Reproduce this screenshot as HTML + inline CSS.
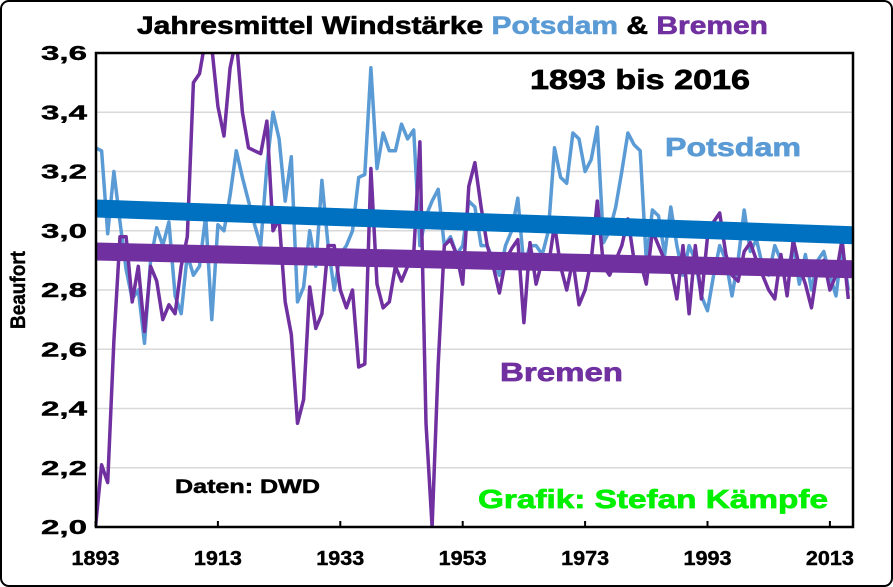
<!DOCTYPE html>
<html><head><meta charset="utf-8"><style>
html,body{margin:0;padding:0;background:#fff;}
svg{display:block;font-family:"Liberation Sans",Arial,sans-serif;}
</style></head><body>
<svg id="chart" width="893" height="587" viewBox="0 0 893 587">
<rect x="1" y="1" width="891" height="585" rx="8" fill="#fff" stroke="#000" stroke-width="2"/>
<text x="137" y="34" textLength="631" lengthAdjust="spacingAndGlyphs" font-size="25" font-weight="bold" stroke="#000" stroke-width="0.6">Jahresmittel Windstärke <tspan fill="#5B9BD5" stroke="#5B9BD5">Potsdam</tspan> &amp; <tspan fill="#7030A0" stroke="#7030A0">Bremen</tspan></text>
<g id="grid"></g>
<g id="ylabels"></g>
<g id="xlabels"></g>
<defs><clipPath id="pc"><rect x="96" y="53" width="757" height="474"/></clipPath></defs>
<g id="series" clip-path="url(#pc)"></g>
<rect x="96" y="53" width="757" height="474" fill="none" stroke="#000" stroke-width="2.5"/>
<text x="25" y="290" transform="rotate(-90 25 290)" text-anchor="middle" textLength="78" lengthAdjust="spacingAndGlyphs" font-size="21" font-weight="bold" stroke="#000" stroke-width="0.4">Beaufort</text>
<text x="530" y="89" textLength="220" lengthAdjust="spacingAndGlyphs" font-size="28" font-weight="bold" stroke="#000" stroke-width="0.7">1893 bis 2016</text>
<text x="665" y="156" textLength="136" lengthAdjust="spacingAndGlyphs" font-size="26" font-weight="bold" fill="#5B9BD5" stroke="#5B9BD5" stroke-width="0.7">Potsdam</text>
<text x="500" y="381" textLength="123" lengthAdjust="spacingAndGlyphs" font-size="26" font-weight="bold" fill="#7030A0" stroke="#7030A0" stroke-width="0.7">Bremen</text>
<text x="175" y="493" textLength="145" lengthAdjust="spacingAndGlyphs" font-size="19" font-weight="bold" stroke="#000" stroke-width="0.5">Daten: DWD</text>
<text x="478" y="508" textLength="350" lengthAdjust="spacingAndGlyphs" font-size="26" font-weight="bold" fill="#00F000" stroke="#00F000" stroke-width="0.7">Grafik: Stefan Kämpfe</text>
</svg>
<script>
const years = [];
for (let y = 1893; y <= 2016; y++) years.push(y);
const potsdam = [3.28,3.27,2.99,3.20,3.03,2.87,2.77,2.80,2.62,2.90,
3.01,2.95,3.03,2.78,2.72,2.92,2.85,2.88,3.05,2.70,
3.02,3.00,3.12,3.27,3.18,3.10,3.02,2.95,3.22,3.40,
3.31,3.10,3.25,2.76,2.81,3.00,2.88,3.17,2.95,2.80,
2.92,2.95,3.00,3.18,3.19,3.55,3.21,3.33,3.27,3.27,
3.36,3.31,3.34,2.95,3.05,3.10,3.14,2.95,2.98,2.92,
2.95,3.10,3.08,2.95,2.95,2.90,2.85,2.95,3.00,3.11,
2.88,2.95,2.95,2.92,3.00,3.28,3.18,3.16,3.33,3.31,
3.20,3.24,3.35,2.96,3.00,3.08,3.20,3.33,3.29,3.27,
2.90,3.07,3.05,2.92,3.08,2.95,2.85,2.95,2.90,2.78,
2.73,2.85,2.95,2.90,2.78,2.90,3.07,2.93,2.97,2.88,
2.85,2.95,2.90,2.85,2.95,2.82,2.92,2.80,2.90,2.93,
2.85,2.78,2.95,2.80];
const bremen = [2.00,2.21,2.15,2.63,2.98,2.98,2.76,2.88,2.66,2.88,
2.83,2.70,2.75,2.72,2.88,2.98,3.50,3.53,3.65,3.62,
3.42,3.32,3.55,3.65,3.40,3.28,3.27,3.26,3.37,3.00,
3.04,2.76,2.65,2.35,2.43,2.81,2.67,2.72,2.95,2.95,
2.80,2.74,2.80,2.54,2.55,3.21,2.82,2.74,2.76,2.88,
2.83,2.88,2.92,3.30,2.35,2.00,2.55,2.95,2.97,2.92,
2.82,3.15,3.23,3.08,2.95,2.88,2.79,2.90,2.94,2.97,
2.69,2.96,2.82,2.90,2.88,3.02,2.88,2.80,2.90,2.75,
2.80,2.90,3.10,2.88,2.85,2.90,2.95,3.04,2.90,2.90,
2.82,3.00,2.95,2.90,2.88,2.77,2.95,2.72,2.95,2.77,
2.98,3.03,3.06,2.92,2.85,2.83,2.93,2.96,2.90,2.85,
2.80,2.77,2.92,2.78,2.97,2.88,2.82,2.74,2.88,2.90,
2.80,2.85,2.97,2.77];
const potsdamTrend = [3.075, 2.985];
const bremenTrend = [2.93, 2.87];
const yTicks = [2.0,2.2,2.4,2.6,2.8,3.0,3.2,3.4,3.6];
const xTicks = [1893,1913,1933,1953,1973,1993,2013];

const NS = "http://www.w3.org/2000/svg";
function xs(yr){ return 95.5 + (yr - 1893) * 6.12; }
function ys(v){ return 527 - (v - 2.0) / 1.6 * 474; }
function mk(tag, attrs, parent){ const e = document.createElementNS(NS, tag); for (const k in attrs) e.setAttribute(k, attrs[k]); parent.appendChild(e); return e; }

const grid = document.getElementById('grid');
const yl = document.getElementById('ylabels');
yTicks.forEach(v => {
  const l = mk('line', {x1:96, x2:853, y1:ys(v), y2:ys(v), stroke:'#d9d9d9', 'stroke-width':1.5}, grid);
  
  
  const t = mk('text', {x:41, y:ys(v)+7, textLength:46, lengthAdjust:'spacingAndGlyphs', 'font-size':20, 'font-weight':'bold', stroke:'#000', 'stroke-width':0.4}, yl);
  t.textContent = v.toFixed(1).replace('.', ',');
  
  
});
const xl = document.getElementById('xlabels');
xTicks.forEach(yr => {
  const tk = mk('line', {x1:xs(yr), x2:xs(yr), y1:527, y2:521, stroke:'#000', 'stroke-width':2}, xl);
  
  
  const t = mk('text', {x:xs(yr)-24, y:565, textLength:48, lengthAdjust:'spacingAndGlyphs', 'font-size':20, 'font-weight':'bold', stroke:'#000', 'stroke-width':0.4}, xl);
  t.textContent = yr;
  
  
});

const sg = document.getElementById('series');
function pts(arr){ return arr.map((v,i) => xs(years[i]).toFixed(1) + ',' + ys(v).toFixed(1)).join(' '); }
const pl = mk('polyline', {points:pts(potsdam), fill:'none', stroke:'#5B9BD5', 'stroke-width':3.5, 'stroke-linejoin':'round'}, sg);


const bl = mk('polyline', {points:pts(bremen), fill:'none', stroke:'#7030A0', 'stroke-width':3.5, 'stroke-linejoin':'round'}, sg);


const pt = mk('line', {x1:96, y1:ys(potsdamTrend[0]), x2:853, y2:ys(potsdamTrend[1]), stroke:'#0070C0', 'stroke-width':18}, sg);


const bt = mk('line', {x1:96, y1:ys(bremenTrend[0]), x2:853, y2:ys(bremenTrend[1]), stroke:'#7030A0', 'stroke-width':18}, sg);


</script>
</body></html>
